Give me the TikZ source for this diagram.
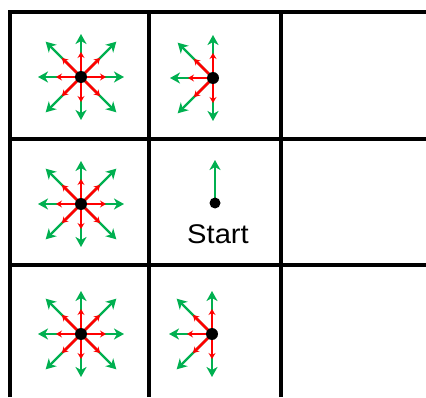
\documentclass[tikz,border=0pt]{standalone}
\usepackage{fontspec}
\setmainfont{Liberation Sans}
\usetikzlibrary{arrows.meta,calc}
\definecolor{movegreen}{RGB}{0,176,80}
\definecolor{movered}{RGB}{255,0,0}
\pgfdeclarelayer{bg}
\pgfdeclarelayer{moves}
\pgfsetlayers{bg,moves,main}

% Draws the long (green) and short (red) move arrows out of a position node.
% #1 = node name, #2 = list of directions in degrees, #3 = 1 to add the short arrows
\newcommand\drawmoves[3]{%
  \foreach \a [evaluate=\a as \gl using {mod(\a,90)==0 ? 43 : 50},
               evaluate=\a as \rl using {mod(\a,90)==0 ? 25 : 27}] in {#2}{%
    \coordinate (#1-g\a) at ($(#1)+(\a:\gl)$);
    \coordinate (#1-r\a) at ($(#1)+(\a:\rl)$);
  }%
  \begin{pgfonlayer}{moves}
    \foreach \a in {#2} \draw[longmove] (#1.center) -- (#1-g\a);
    \ifnum#3=1
      \foreach \a in {#2} \draw[shortmove] (#1.center) -- (#1-r\a);
    \fi
  \end{pgfonlayer}%
}

\begin{document}
\begin{tikzpicture}[x=1pt,y=1pt,
  gridline/.style={line width=3.4pt,black,line join=miter},
  longmove/.style={movegreen,line width=2.4pt,-{Stealth[length=10pt,width=11pt,inset=3pt]}},
  shortmove/.style={movered,line width=2.6pt,-{Stealth[length=6pt,width=7pt,inset=2pt]}},
  piece/.style={circle,fill=black,inner sep=0pt,minimum size=12pt},
  lbl/.style={font=\fontsize{27}{30}\selectfont,inner sep=0pt,xscale=1.08}]
\useasboundingbox (0,0) rectangle (426,397);
\begin{pgfonlayer}{bg}
  \fill[white] (0,0) rectangle (426,397);
\end{pgfonlayer}

% board grid
\draw[gridline] (10,0) -- (10,385) -- (426,385);
\draw[gridline] (149,0) -- (149,385);
\draw[gridline] (281,0) -- (281,385);
\draw[gridline] (10,258) -- (426,258);
\draw[gridline] (10,132) -- (426,132);

% positions
\node[piece] (p11) at (81,320) {};
\node[piece] (p12) at (213,319) {};
\node[piece] (p21) at (81,193) {};
\node[piece,minimum size=11pt] (p22) at (215,194) {};
\node[piece] (p31) at (81,63) {};
\node[piece] (p32) at (212,63) {};

\node[lbl] (startlbl) at (218,163) {Start};

% moves
\drawmoves{p11}{0,45,...,315}{1}
\drawmoves{p21}{0,45,...,315}{1}
\drawmoves{p31}{0,45,...,315}{1}
\drawmoves{p12}{90,135,180,225,270}{1}
\drawmoves{p32}{90,135,180,225,270}{1}
\drawmoves{p22}{90}{0}
\end{tikzpicture}
\end{document}
